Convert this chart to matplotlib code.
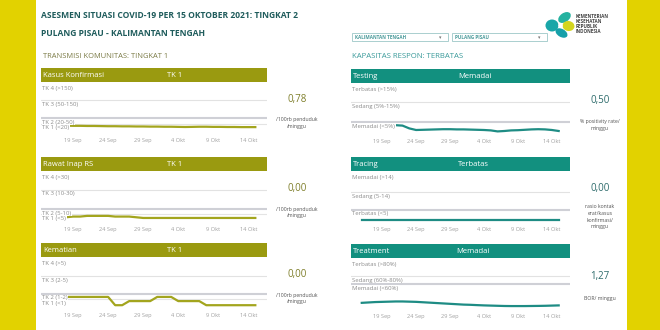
import matplotlib
matplotlib.use("Agg")
import matplotlib.pyplot as plt
import matplotlib.patches as mpatches
import pandas as pd

# ---------------- data ----------------
dates = pd.date_range("2021-09-16", "2021-10-15")
tick_dates = pd.to_datetime(["2021-09-19", "2021-09-24", "2021-09-29",
                             "2021-10-04", "2021-10-09", "2021-10-14"])
tick_labels = ["19 Sep", "24 Sep", "29 Sep", "4 Okt", "9 Okt", "14 Okt"]

kasus = [9.3, 8.6, 8.6, 7.9, 7.9, 7.1, 7.1, 6.4, 5.7, 5.7, 5.0, 5.0, 4.3, 4.3, 3.6,
         3.6, 2.9, 2.9, 2.1, 1.4, 2.1, 2.9, 2.9, 2.1, 2.1, 1.4, 1.4, 0.78, 0.78, 0.78]
rawat = [2.1, 2.1, 2.1, 2.8, 2.8, 3.5, 3.5, 3.5, 3.5, 2.8, 2.8, 2.8, 2.1, 1.4, 1.4,
         1.4, 1.4, 1.4, 1.4, 1.4, 1.4, 1.4, 1.4, 1.4, 1.4, 1.4, 1.4, 1.4, 1.4, 1.4]
kematian = [1.43] * 9 + [0, 0] + [0.71] * 4 + [1.43] * 3 + [0.71] * 4 + [0] * 8
testing = [3.3, 3.3, 3.3, 3.3, 3.4, 3.4, 3.2, 1.8, 1.0, 1.1, 1.2, 1.3, 1.4, 1.4, 1.3,
           1.3, 1.2, 1.1, 1.0, 0.8, 0.3, 0.5, 0.8, 0.9, 1.1, 1.3, 1.4, 1.3, 1.0, 0.5]
tracing = [0.0] * 30
treatment = [12.0, 13.0, 14.0, 14.5, 15.0, 15.5, 15.5, 15.0, 14.5, 13.5, 12.5, 11.5,
             10.5, 9.5, 8.5, 7.5, 7.0, 6.2, 5.5, 5.0, 4.5, 4.0, 3.8, 3.8, 3.8, 4.0,
             4.2, 4.5, 5.0, 5.5]

left_titles = ["Kasus Konfirmasi", "Rawat Inap RS", "Kematian"]
left_status = ["TK 1", "TK 1", "TK 1"]
left_values = ["0,78", "0,00", "0,00"]
left_units = ["/100rb penduduk\n/minggu"] * 3
left_thresholds = [[150, 50, 20], [30, 10, 5], [5, 2, 1]]
left_labels = [["TK 4 (>150)", "TK 3 (50-150)", "TK 2 (20-50)", "TK 1 (<20)"],
               ["TK 4 (>30)", "TK 3 (10-30)", "TK 2 (5-10)", "TK 1 (<5)"],
               ["TK 4 (>5)", "TK 3 (2-5)", "TK 2 (1-2)", "TK 1 (<1)"]]
left_series = [kasus, rawat, kematian]
left_ylims = [(-43, 240), (-4.7, 46.8), (-0.83, 7.99)]

right_titles = ["Testing", "Tracing", "Treatment"]
right_status = ["Memadai", "Terbatas", "Memadai"]
right_values = ["0,50", "0,00", "1,27"]
right_units = ["% positivity rate/\nminggu", "rasio kontak\nerat/kasus\nkonfirmasi/\nminggu",
               "BOR/ minggu"]
right_thresholds = [[15, 5], [14, 5], [80, 60]]
right_labels = [["Terbatas (>15%)", "Sedang (5%-15%)", "Memadai (<5%)"],
                ["Memadai (>14)", "Sedang (5-14)", "Terbatas (<5)"],
                ["Terbatas (>80%)", "Sedang (60%-80%)", "Memadai (<60%)"]]
right_series = [testing, tracing, treatment]
right_ylims = [(-2, 23.5), (-2.2, 23.7), (-8.75, 121)]

# ---------------- styles ----------------
W, H = 660, 330
YELLOW = "#E2D200"
OLIVE = "#9A9A10"
OLIVE_LINE = "#A3A51E"
OLIVE_TEXT = "#7E7E2A"
TEAL = "#12907F"
TEAL_LINE = "#1E8C84"
TEAL_TEXT = "#2D6B6B"
TITLE = "#1F5C5C"

plt.rcParams["font.family"] = ["Open Sans", "DejaVu Sans"]
fig = plt.figure(figsize=(6.6, 3.3), dpi=100)
fig.patch.set_facecolor("white")


def axes_px(x0, y0, x1, y1):
    return fig.add_axes([x0 / W, 1 - y1 / H, (x1 - x0) / W, (y1 - y0) / H])


def text_px(x, y, s, **kw):
    return fig.text(x / W, 1 - y / H, s, **kw)


def rect_px(x0, y0, x1, y1, **kw):
    r = mpatches.Rectangle((x0 / W, 1 - y1 / H), (x1 - x0) / W, (y1 - y0) / H,
                           transform=fig.transFigure, **kw)
    fig.add_artist(r)
    return r


# side yellow bars
rect_px(0, 0, 36, 330, fc=YELLOW, ec="none")
rect_px(627, 0, 660, 330, fc=YELLOW, ec="none")

# titles
text_px(41, 16, "ASESMEN SITUASI COVID-19 PER 15 OKTOBER 2021: TINGKAT 2",
        fontsize=6.1, fontweight="bold", color=TITLE, va="center")
text_px(41, 34, "PULANG PISAU - KALIMANTAN TENGAH",
        fontsize=6.1, fontweight="bold", color=TITLE, va="center")
text_px(43, 56, "TRANSMISI KOMUNITAS: TINGKAT 1", fontsize=5.4,
        color="#7A7A45", va="center")
text_px(352, 56, "KAPASITAS RESPON: TERBATAS", fontsize=5.6,
        color="#3A9A9A", va="center")

# dropdowns
for (x0, x1, label) in [(352, 448, "KALIMANTAN TENGAH"), (452, 547, "PULANG PISAU")]:
    rect_px(x0, 33, x1, 41, fc="white", ec="#9CC7C7", lw=0.6)
    text_px(x0 + 3, 37.2, label, fontsize=3.3, fontweight="bold",
            color="#4A9A9A", va="center")
    text_px(x1 - 9, 37.2, "▾", fontsize=3.5, color="#777777", va="center",
            family="DejaVu Sans")

# logo (drawn in pixel coordinates)
lax = axes_px(540, 8, 580, 40)
lax.set_xlim(540, 580)
lax.set_ylim(40, 8)
lax.axis("off")
for (cx, cy, w, h, ang, col) in [(552.0, 25.5, 13.0, 12.0, 0, "#19A6A8"),
                                 (564.5, 17.5, 14.0, 9.0, -35, "#24B2A0"),
                                 (568.5, 26.0, 12.0, 10.0, 10, "#D3D51E"),
                                 (561.5, 33.0, 13.0, 8.0, 30, "#17A0A9")]:
    lax.add_patch(mpatches.Ellipse((cx, cy), w, h, angle=ang, fc=col, ec="none"))
lax.add_patch(mpatches.Circle((560.5, 25.5), 2.2, fc="white", ec="none"))
text_px(576, 24, "KEMENTERIAN\nKESEHATAN\nREPUBLIK\nINDONESIA", fontsize=3.3,
        fontweight="bold", color="#444444", va="center", linespacing=1.05)


def panel(x0, x1, hy, title, status, status_x, color, series, thresholds, labels,
          ylim, line_color, value, unit, vx, value_color, unit_offset):
    # header bar
    rect_px(x0, hy, x1, hy + 14, fc=color, ec="none")
    text_px(x0 + 2, hy + 7.3, title, fontsize=5.5, color="white", va="center")
    text_px(status_x, hy + 7.3, status, fontsize=5.5, color="white", va="center")
    ax = axes_px(x0, hy + 16, x1, hy + 67)
    ax.set_xlim(pd.Timestamp("2021-09-14 10:00"), pd.Timestamp("2021-10-16 16:00"))
    ax.set_ylim(*ylim)
    for s in ax.spines.values():
        s.set_visible(False)
    ax.set_yticks([])
    ax.set_xticks(tick_dates)
    ax.set_xticklabels(tick_labels, fontsize=4.1, color="#A0A0A0")
    ax.tick_params(axis="x", length=0, pad=2.2)
    styles = [("#E2E2E2", 0.8), ("#CFD0D6", 1.5), ("#E4E4E4", 0.8)]
    for t, (c, lw) in zip(thresholds, styles):
        ax.axhline(t, color=c, lw=lw, zorder=1)
    ax.plot(dates, series, color=line_color, lw=1.6, zorder=2,
            solid_joinstyle="round")
    tops = [ylim[1]] + list(thresholds)
    for t, lab in zip(tops, labels):
        ax.annotate(lab, (0, t), xycoords=("axes fraction", "data"),
                    xytext=(1, -1.2), textcoords="offset points",
                    fontsize=4.3, color="#8C8C8C", va="top", ha="left", zorder=3,
                    bbox=dict(fc="white", ec="none", pad=0.25))
    text_px(vx, hy + 32, value, fontsize=7.0, color=value_color, ha="center",
            va="center")
    text_px(vx, hy + unit_offset, unit, fontsize=3.7, color="#555555", ha="center",
            va="top", linespacing=1.45)
    return ax


left_hy = [68, 157, 243]
right_hy = [69, 157, 244]
for i in range(3):
    panel(41, 267, left_hy[i], left_titles[i], left_status[i], 167, OLIVE,
          left_series[i], left_thresholds[i], left_labels[i], left_ylims[i],
          OLIVE_LINE, left_values[i], left_units[i], 297, OLIVE_TEXT, 49.5)
    panel(351, 570, right_hy[i], right_titles[i], right_status[i],
          [458, 458, 456][i], TEAL, right_series[i], right_thresholds[i],
          right_labels[i], right_ylims[i], TEAL_LINE, right_values[i],
          right_units[i], 600, TEAL_TEXT, [50, 47, 52][i])

fig.savefig("out.png", dpi=100, facecolor="white")
